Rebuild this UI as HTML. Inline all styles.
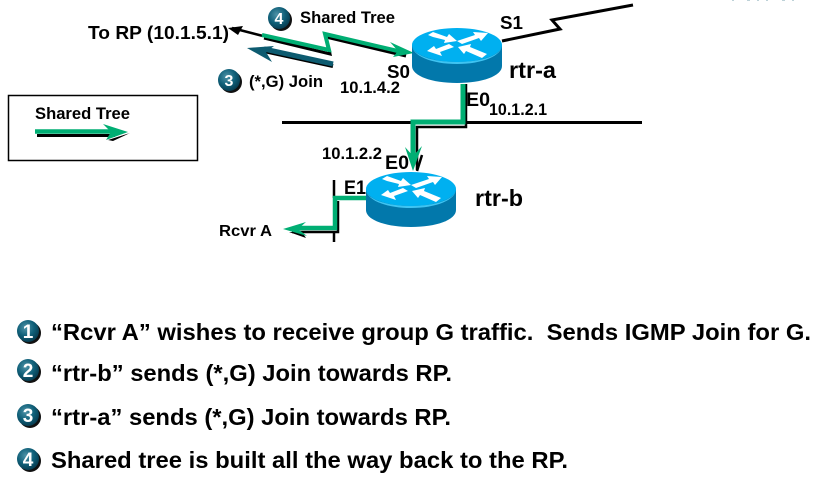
<!DOCTYPE html>
<html><head><meta charset="utf-8"><style>
html,body{margin:0;padding:0;background:#fff;width:824px;height:479px;overflow:hidden}
svg{display:block}
text{font-family:"Liberation Sans",sans-serif;font-weight:bold;fill:#000}
</style></head><body>
<svg width="824" height="479" viewBox="0 0 824 479" xmlns="http://www.w3.org/2000/svg">
<defs>
<radialGradient id="b" cx="40%" cy="35%" r="70%"><stop offset="0" stop-color="#4f93a8"/><stop offset=".55" stop-color="#0f5f78"/><stop offset="1" stop-color="#06384c"/></radialGradient>
<g id="router">
<path d="M-45 0V21C-45 31 -25 38 0 38S45 31 45 21V0Z" fill="#0278ab"/>
<ellipse cx="0" cy="0" rx="45" ry="17" fill="#00b0f0"/>
<path d="M-45 0C-45 10 -25 17 0 17S45 10 45 0C45 11 25 19 0 19S-45 11 -45 0Z" fill="#3fc4f2"/>
<path d="M-29 -10L-24 -13L-10 -8L-8 -11L0 -4L-13 -2L-12 -5L-24 -8Z M31 -12L16 -13L18 -10L0 -4L5 -1L22 -7L24 -4Z M-30 6L-15 11L-17 7L-3 2L-8 -1L-21 4L-23 1Z M1 2L14 -1L13 2L30 9L25 13L9 6L7 9Z" fill="#fff"/>
</g>
<g id="n"><circle cx="2" cy="2" r="11" fill="#111"/><circle cx="0" cy="0" r="11" fill="url(#b)"/></g>
</defs>

<!-- ethernet segments -->
<path d="M282 122.500H642" stroke="#000" stroke-width="3" fill="none"/>
<path d="M334 180V198M334 231V242" stroke="#000" stroke-width="2.500" fill="none"/>
<!-- S1 serial -->
<path d="M502 41L560 29L552 20L633 5" stroke="#000" stroke-width="3" fill="none"/>

<!-- top serial path -->
<path d="M232 28L263 36" stroke="#000" stroke-width="2.500"/>
<path d="M228 28L243 26L238 35Z" fill="#000"/>
<path d="M264 38L330 54L326 37L406 56" stroke="#000" stroke-width="3" fill="none"/>
<path d="M262 35L329 50L325 34L402 52" stroke="#00ae73" stroke-width="4" fill="none"/>
<path d="M390 42L414 53L393 57L398 51Z" fill="#00ae73"/>

<!-- join arrow -->
<path d="M333 66L264 51" stroke="#000" stroke-width="4"/>
<path d="M333 64L264 49" stroke="#0d5b70" stroke-width="5"/>
<path d="M247 48L274 46L266 52L272 62Z" fill="#0d5b70"/>

<!-- vertical rtr-a to rtr-b -->
<path d="M466 84V127H417V170" stroke="#000" stroke-width="2.500" fill="none"/>
<path d="M463 84V122H413V160" stroke="#00ae73" stroke-width="5" fill="none"/>
<path d="M405 147L413 156L422 146L413 171Z" fill="#00ae73"/>
<path d="M422 155L417 171" stroke="#000" stroke-width="2.500"/>

<!-- rtr-b to Rcvr A -->
<path d="M338 201V232H292" stroke="#000" stroke-width="2.500" fill="none"/>
<path d="M367 198H335V228H296" stroke="#00ae73" stroke-width="4.500" fill="none"/>
<path d="M289 232L306 238L302 232Z" fill="#000"/>
<path d="M283 229L306 222L298 229L307 236Z" fill="#00ae73"/>

<use href="#router" x="457" y="45"/>
<use href="#router" x="411" y="189"/>

<!-- legend -->
<rect x="8.500" y="95.500" width="189" height="65" fill="#fff" stroke="#000" stroke-width="1.500"/>
<text x="35" y="119" font-size="16.500" textLength="95" lengthAdjust="spacingAndGlyphs">Shared Tree</text>
<path d="M37 135.500H115" stroke="#000" stroke-width="3"/>
<path d="M108 140L130 133L113 141Z" fill="#000"/>
<path d="M35 131.500H112" stroke="#00ae73" stroke-width="4.500"/>
<path d="M103 124L128 132L106 140L111 132Z" fill="#00ae73"/>

<!-- diagram labels -->
<text x="88" y="39" font-size="18.500" textLength="141" lengthAdjust="spacingAndGlyphs">To RP (10.1.5.1)</text>
<use href="#n" x="279" y="18"/><text x="279" y="24" text-anchor="middle" font-size="16" style="fill:#fff">4</text>
<text x="300" y="23" font-size="16.500" textLength="95" lengthAdjust="spacingAndGlyphs">Shared Tree</text>
<use href="#n" x="229" y="80"/><text x="229" y="86" text-anchor="middle" font-size="16" style="fill:#fff">3</text>
<text x="249" y="87" font-size="16.500" textLength="74" lengthAdjust="spacingAndGlyphs">(*,G) Join</text>
<text x="387" y="78" font-size="18" textLength="23" lengthAdjust="spacingAndGlyphs">S0</text>
<text x="340" y="93" font-size="16.500" textLength="60" lengthAdjust="spacingAndGlyphs">10.1.4.2</text>
<text x="500" y="29" font-size="18" textLength="23" lengthAdjust="spacingAndGlyphs">S1</text>
<text x="509" y="78" font-size="23.500" textLength="47" lengthAdjust="spacingAndGlyphs">rtr-a</text>
<text x="466" y="106" font-size="19" textLength="24" lengthAdjust="spacingAndGlyphs">E0</text>
<text x="489" y="115" font-size="16.500" textLength="58" lengthAdjust="spacingAndGlyphs">10.1.2.1</text>
<text x="322" y="159" font-size="16.500" textLength="60" lengthAdjust="spacingAndGlyphs">10.1.2.2</text>
<text x="385" y="169" font-size="19" textLength="24" lengthAdjust="spacingAndGlyphs">E0</text>
<text x="344" y="194" font-size="19" textLength="22" lengthAdjust="spacingAndGlyphs">E1</text>
<text x="475" y="206" font-size="23.500" textLength="48" lengthAdjust="spacingAndGlyphs">rtr-b</text>
<text x="219" y="236" font-size="16" textLength="53" lengthAdjust="spacingAndGlyphs">Rcvr A</text>

<!-- steps -->
<use href="#n" x="28" y="331"/><text x="28" y="338" text-anchor="middle" font-size="19" style="fill:#fff">1</text>
<use href="#n" x="28" y="370"/><text x="28" y="377" text-anchor="middle" font-size="19" style="fill:#fff">2</text>
<use href="#n" x="28" y="415"/><text x="28" y="422" text-anchor="middle" font-size="19" style="fill:#fff">3</text>
<use href="#n" x="28" y="459"/><text x="28" y="466" text-anchor="middle" font-size="19" style="fill:#fff">4</text>
<text x="51" y="340" font-size="23.500" textLength="760" lengthAdjust="spacingAndGlyphs" xml:space="preserve">“Rcvr A” wishes to receive group G traffic.  Sends IGMP Join for G.</text>
<text x="51" y="381" font-size="23.500" textLength="401" lengthAdjust="spacingAndGlyphs">“rtr-b” sends (*,G) Join towards RP.</text>
<text x="51" y="425" font-size="23.500" textLength="400" lengthAdjust="spacingAndGlyphs">“rtr-a” sends (*,G) Join towards RP.</text>
<text x="51" y="468" font-size="23.500" textLength="517" lengthAdjust="spacingAndGlyphs">Shared tree is built all the way back to the RP.</text>

<!-- cut-off marks at top right -->
<path d="M732 0h2M747 0h3M757 0h2M766 0h2M782 0h3M792 0h2" stroke="#a9c4cc" stroke-width="1.500"/>
</svg>
</body></html>
